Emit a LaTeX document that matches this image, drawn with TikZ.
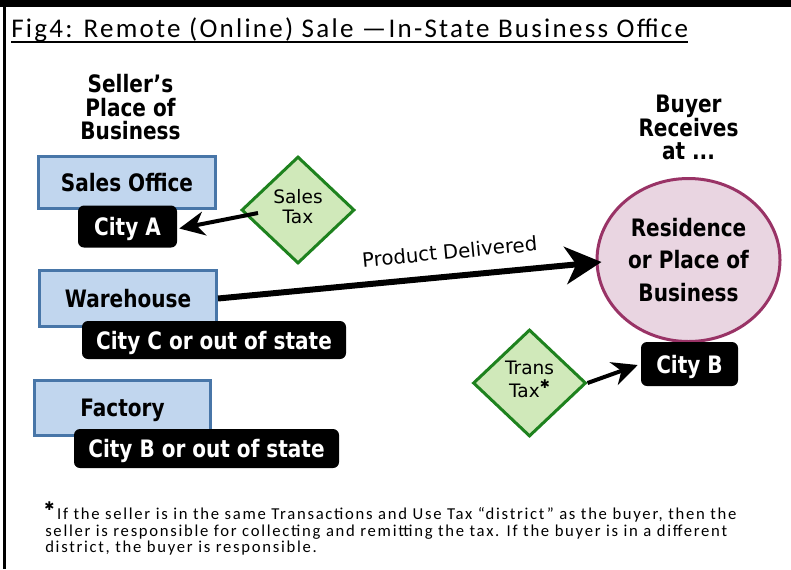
\documentclass[tikz,border=0pt]{standalone}
\usepackage{fontspec}
\setmainfont{Carlito}
\newfontfamily\boxfont[FakeStretch=0.835]{DejaVu Sans}
\newfontfamily\dvs{DejaVu Sans}
\newfontfamily\footfont[LetterSpace=10.3]{Carlito}
\newfontfamily\titlefont[LetterSpace=8.4]{Carlito}
\usetikzlibrary{shapes.geometric,arrows.meta,calc}
\definecolor{bluef}{RGB}{193,214,238}
\definecolor{blued}{RGB}{72,118,168}
\definecolor{greenf}{RGB}{208,233,186}
\definecolor{greend}{RGB}{30,130,30}
\definecolor{pinkf}{RGB}{233,213,225}
\definecolor{pinkd}{RGB}{153,51,102}
\newdimen\pxu \pxu=0.75pt
\tikzset{
  place/.style={draw=blued, fill=bluef, line width=3\pxu, inner sep=0pt,
    font=\boxfont\bfseries\fontsize{18}{21}\selectfont, text depth=0pt},
  citybox/.style={fill=black, text=white, rounded corners=6\pxu, inner sep=0pt,
    font=\boxfont\bfseries\fontsize{18}{21}\selectfont, text depth=0pt},
  taxbox/.style={diamond, draw=greend, fill=greenf, line width=3\pxu, inner sep=0pt,
    align=center, font=\dvs\fontsize{13.9}{15}\selectfont, text depth=6pt},
  buyerbox/.style={ellipse, draw=pinkd, fill=pinkf, line width=3\pxu, inner sep=0pt,
    align=center, font=\boxfont\bfseries\fontsize{18}{24.4}\selectfont},
  hdr/.style={align=center, inner sep=0pt, font=\boxfont\bfseries\fontsize{18}{17.6}\selectfont},
  notetext/.style={anchor=base west, inner sep=0pt, font=\footfont\fontsize{12.5}{12.5}\selectfont},
  flow/.style={line width=4\pxu, -{Stealth[length=19pt, width=18pt, inset=6pt]}},
  bigflow/.style={line width=6\pxu, -{Stealth[length=27pt, width=28pt, inset=8pt]}},
}
\begin{document}
\begin{tikzpicture}[x=0.75pt, y=-0.75pt]
\useasboundingbox (0,0) rectangle (791,569);
% frame
\fill[black] (0,0) rectangle (791,7);
\fill[black] (3,0) rectangle (6,569);
% title
\node[anchor=base west, inner sep=0pt, font=\titlefont\fontsize{20.25}{24}\selectfont] (title) at (11,37.7)
  {Fig4: Remote (Online) Sale —In-State Business Office};
\draw[line width=2\pxu] ($(title.base west)+(0,4.3)$) -- ($(title.base east)+(0,4.3)$);
% headers
\node[hdr] (sellerh) at (130.5,107.5) {Seller’s\\Place of\\Business};
\node[hdr] (buyerh) at (688.5,127.75) {Buyer\\Receives\\at ...};
% seller places
\node[place, minimum width=177\pxu, minimum height=52\pxu] (so) at (127,182.5) {Sales Office};
\node[citybox, minimum width=99\pxu, minimum height=42\pxu] (citya) at (127.5,226.5) {City A};
\node[place, minimum width=177\pxu, minimum height=56\pxu] (wh) at (128,298.5) {Warehouse};
\node[citybox, minimum width=264\pxu, minimum height=38\pxu] (cityc) at (214,340) {City C or out of state};
\node[place, minimum width=176\pxu, minimum height=55\pxu] (fac) at (122.5,408) {Factory};
\node[citybox, minimum width=265\pxu, minimum height=39\pxu] (citybo) at (206.5,448.5) {City B or out of state};
% taxes
\node[taxbox, minimum width=113\pxu, minimum height=107\pxu] (stax) at (298,210) {Sales\\Tax};
\node[taxbox, minimum width=113\pxu, minimum height=107\pxu] (ttax) at (529.5,383)
  {Trans\\[3\pxu]Tax\raisebox{0.5em}{\dvs\bfseries\fontsize{9}{9}\selectfont ✱}};
% buyer
\node[buyerbox, minimum width=183\pxu, minimum height=163\pxu] (res) at (688.5,260)
  {Residence\\or Place of\\Business};
\node[citybox, minimum width=97\pxu, minimum height=44\pxu] (cityb) at (689.5,364) {City B};
% connectors
\draw[flow] ($(stax.center)+(-40,3)$) -- ($(citya.east)+(2,2)$);
\draw[bigflow] (wh.east) -- node[pos=0.61, sloped, anchor=base, yshift=13pt, inner sep=0pt,
  font=\dvs\fontsize{14.8}{16}\selectfont] (pdl) {Product Delivered} ($(res.west)+(6,2)$);
\draw[flow] (ttax.east) -- ($(cityb.west)+(-3,1)$);
% footnote
\node[notetext] (note1) at (44,519)
  {\raisebox{0.5em}{\dvs\bfseries\fontsize{9}{9}\selectfont ✱}\,If the seller is in the same Transactions and Use Tax “district” as the buyer, then the};
\node[notetext] (note2) at (45,536) {seller is responsible for collecting and remitting the tax. If the buyer is in a different};
\node[notetext] (note3) at (45,552.5) {district, the buyer is responsible.};
\end{tikzpicture}
\end{document}
